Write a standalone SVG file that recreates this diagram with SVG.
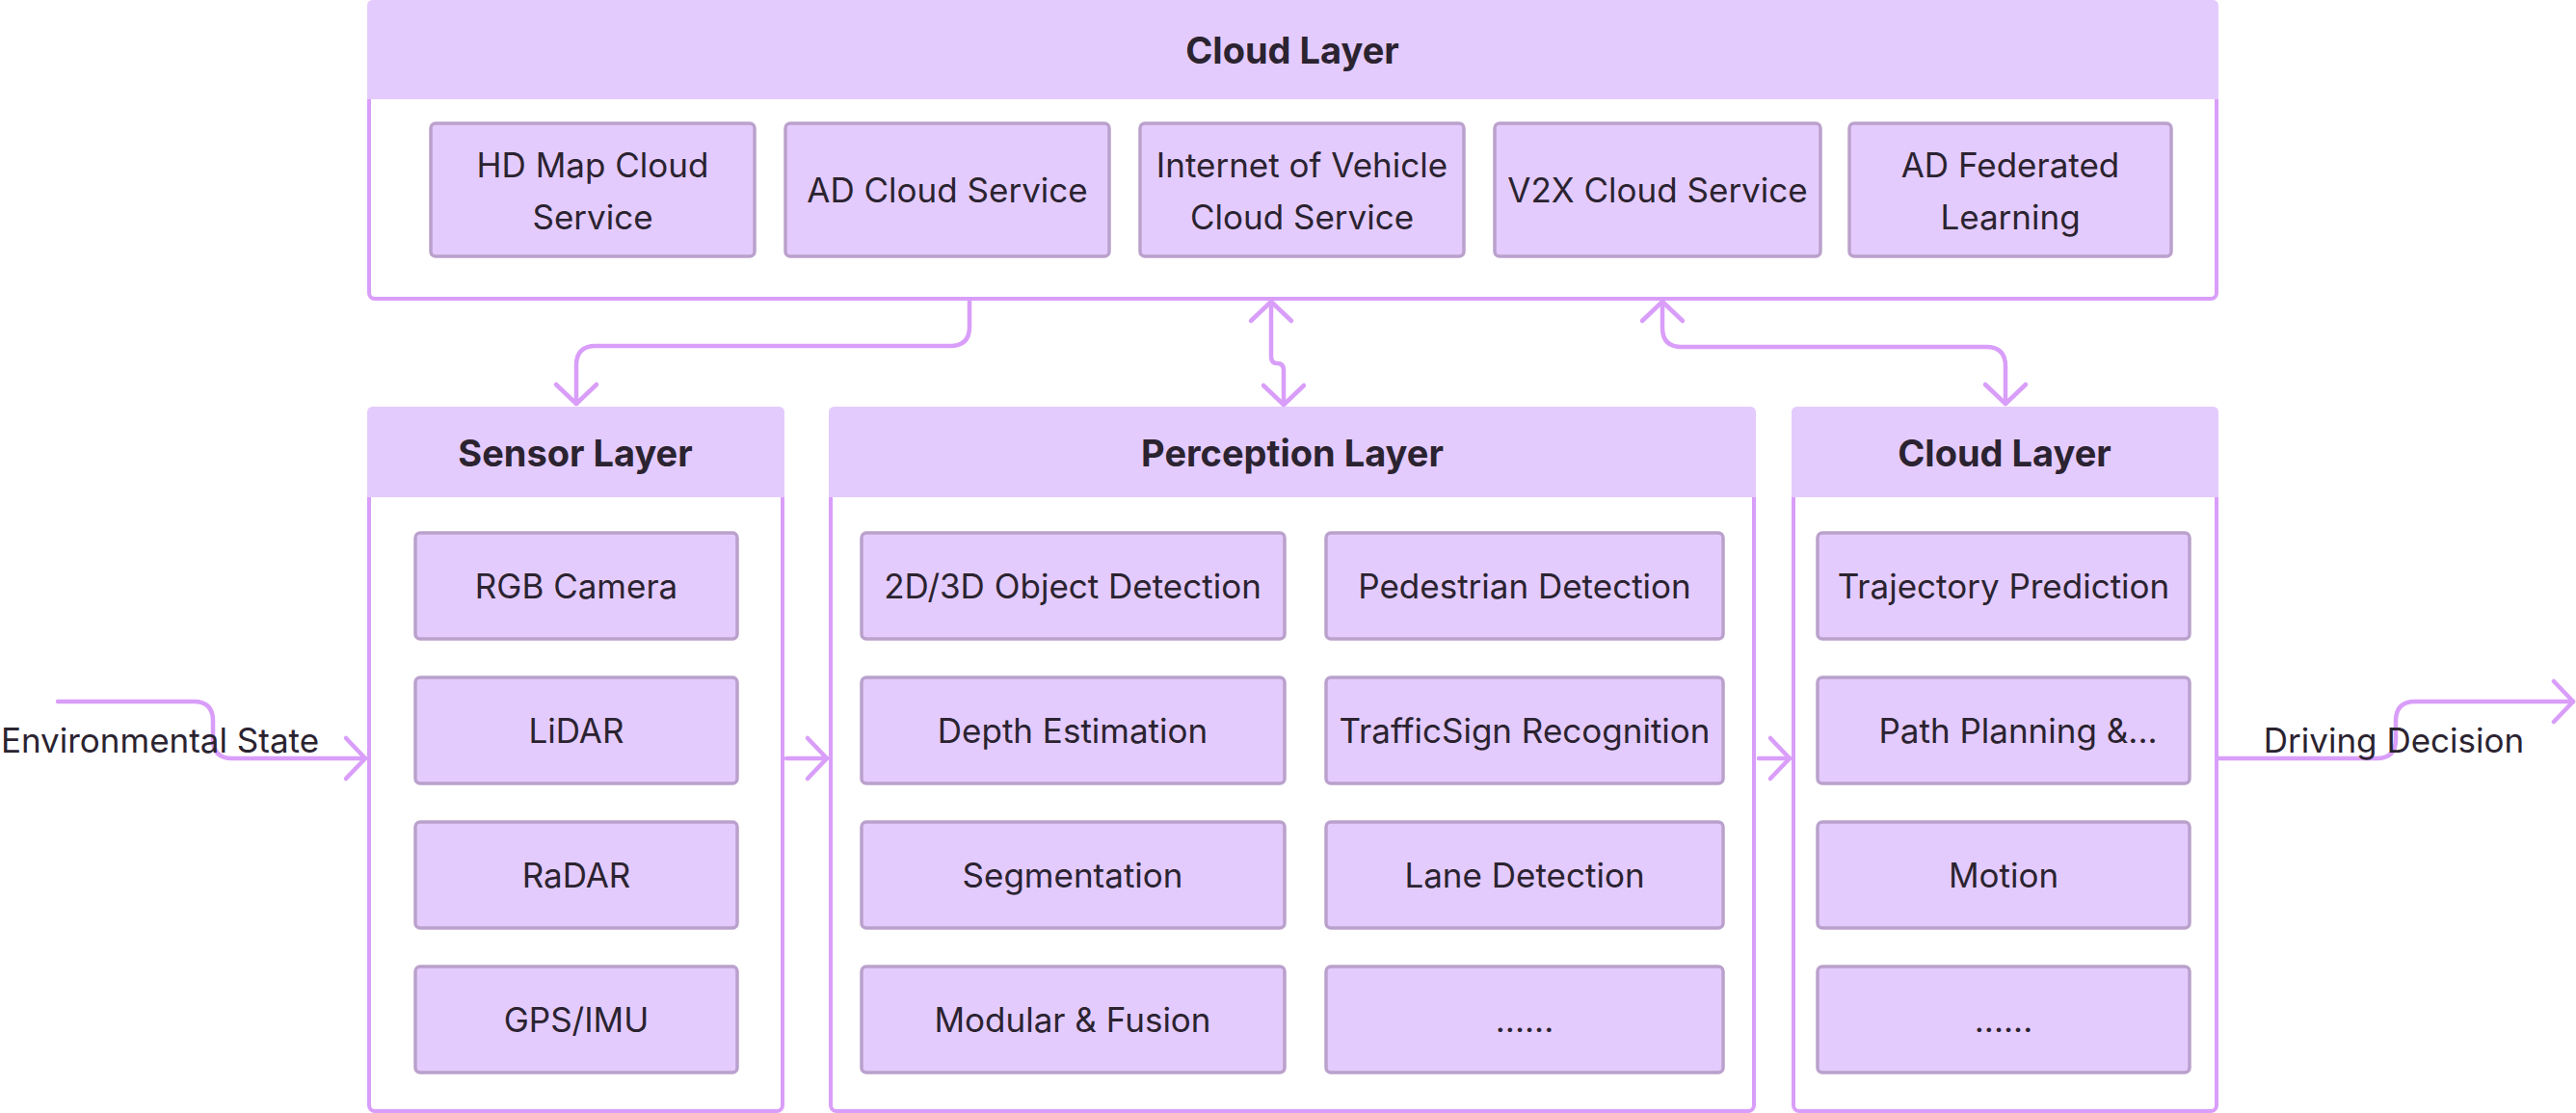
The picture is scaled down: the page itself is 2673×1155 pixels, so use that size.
<svg xmlns="http://www.w3.org/2000/svg" width="2673" height="1155" viewBox="0 0 2673 1155">
<style>
.cont{fill:#ffffff;stroke:#d99ef9;stroke-width:4}
.hdr{fill:#e4cbfd}
.item{fill:#e4cbfd;stroke:#baa1cc;stroke-width:3.5}
.ht{font-family:Inter,"Noto Sans",sans-serif;font-weight:700;font-size:38px;fill:#2b2330;text-anchor:middle}
.it{font-family:Inter,"Noto Sans",sans-serif;font-weight:400;font-size:35px;fill:#2b2330;text-anchor:middle}
.conn{fill:none;stroke:#d99ef9;stroke-width:4.5;stroke-linecap:round;stroke-linejoin:round}
</style>
<defs>
<marker id="ah" markerUnits="userSpaceOnUse" markerWidth="50" markerHeight="50" viewBox="-25 -25 50 50" refX="0" refY="0" orient="auto-start-reverse" overflow="visible">
<path d="M-20,-21 L0,0 L-20,21" fill="none" stroke="#d99ef9" stroke-width="4.5" stroke-linecap="round" stroke-linejoin="round"/>
</marker>
</defs>
<rect width="2673" height="1155" fill="#ffffff"/>

<g id="connectors">
<path class="conn" d="M1006,312 V339 Q1006,359 986,359 H618 Q598,359 598,379 V419" marker-end="url(#ah)"/>
<path class="conn" d="M1319,313 V370 Q1319,377 1325,377 Q1332,377 1332,384 V420" marker-start="url(#ah)" marker-end="url(#ah)"/>
<path class="conn" d="M1725,313 V340 Q1725,360 1745,360 H2061 Q2081,360 2081,380 V419" marker-start="url(#ah)" marker-end="url(#ah)"/>
<path class="conn" d="M60,728 H201 Q221,728 221,748 V767 Q221,787 241,787 H379" marker-end="url(#ah)"/>
<path class="conn" d="M816,787 H858" marker-end="url(#ah)"/>
<path class="conn" d="M1825,787 H1857" marker-end="url(#ah)"/>
<path class="conn" d="M2302,787 H2466 Q2486,787 2486,767 V748 Q2486,728 2506,728 H2670" marker-end="url(#ah)"/>
<text class="it" x="166" y="781">Environmental State</text>
<text class="it" x="2484" y="781">Driving Decision</text>
</g>

<g id="cloud-top">
<rect class="cont" x="383" y="2" width="1917" height="308" rx="6"/>
<path class="hdr" d="M381,6 Q381,0 387,0 H2296 Q2302,0 2302,6 V103 H381 Z"/>
<text class="ht" x="1341" y="66">Cloud Layer</text>
<g id="hdmap"><rect class="item" x="447" y="128" width="336" height="138" rx="5"/><text class="it" x="615" y="184">HD Map Cloud</text><text class="it" x="615" y="238">Service</text></g>
<g id="adcloud"><rect class="item" x="815" y="128" width="336" height="138" rx="5"/><text class="it" x="983" y="210">AD Cloud Service</text></g>
<g id="iov"><rect class="item" x="1183" y="128" width="336" height="138" rx="5"/><text class="it" x="1351" y="184">Internet of Vehicle</text><text class="it" x="1351" y="238">Cloud Service</text></g>
<g id="v2x"><rect class="item" x="1551" y="128" width="338" height="138" rx="5"/><text class="it" x="1720" y="210">V2X Cloud Service</text></g>
<g id="adfed"><rect class="item" x="1919" y="128" width="334" height="138" rx="5"/><text class="it" x="2086" y="184">AD Federated</text><text class="it" x="2086" y="238">Learning</text></g>
</g>

<g id="sensor">
<rect class="cont" x="383" y="424" width="429" height="729" rx="6"/>
<path class="hdr" d="M381,428 Q381,422 387,422 H808 Q814,422 814,428 V516 H381 Z"/>
<text class="ht" x="597" y="484">Sensor Layer</text>
<g id="rgb"><rect class="item" x="431" y="553" width="334" height="110" rx="5"/><text class="it" x="598" y="621">RGB Camera</text></g>
<g id="lidar"><rect class="item" x="431" y="703" width="334" height="110" rx="5"/><text class="it" x="598" y="771">LiDAR</text></g>
<g id="radar"><rect class="item" x="431" y="853" width="334" height="110" rx="5"/><text class="it" x="598" y="921">RaDAR</text></g>
<g id="gps"><rect class="item" x="431" y="1003" width="334" height="110" rx="5"/><text class="it" x="598" y="1071">GPS/IMU</text></g>
</g>

<g id="perception">
<rect class="cont" x="862" y="424" width="958" height="729" rx="6"/>
<path class="hdr" d="M860,428 Q860,422 866,422 H1816 Q1822,422 1822,428 V516 H860 Z"/>
<text class="ht" x="1341" y="484">Perception Layer</text>
<g id="objdet"><rect class="item" x="894" y="553" width="439" height="110" rx="5"/><text class="it" x="1113" y="621">2D/3D Object Detection</text></g>
<g id="depth"><rect class="item" x="894" y="703" width="439" height="110" rx="5"/><text class="it" x="1113" y="771">Depth Estimation</text></g>
<g id="seg"><rect class="item" x="894" y="853" width="439" height="110" rx="5"/><text class="it" x="1113" y="921">Segmentation</text></g>
<g id="fusion"><rect class="item" x="894" y="1003" width="439" height="110" rx="5"/><text class="it" x="1113" y="1071">Modular &amp; Fusion</text></g>
<g id="ped"><rect class="item" x="1376" y="553" width="412" height="110" rx="5"/><text class="it" x="1582" y="621">Pedestrian Detection</text></g>
<g id="traffic"><rect class="item" x="1376" y="703" width="412" height="110" rx="5"/><text class="it" x="1582" y="771">TrafficSign Recognition</text></g>
<g id="lane"><rect class="item" x="1376" y="853" width="412" height="110" rx="5"/><text class="it" x="1582" y="921">Lane Detection</text></g>
<g id="pmore"><rect class="item" x="1376" y="1003" width="412" height="110" rx="5"/><text class="it" x="1582" y="1071">......</text></g>
</g>

<g id="cloud-right">
<rect class="cont" x="1861" y="424" width="439" height="729" rx="6"/>
<path class="hdr" d="M1859,428 Q1859,422 1865,422 H2296 Q2302,422 2302,428 V516 H1859 Z"/>
<text class="ht" x="2080" y="484">Cloud Layer</text>
<g id="traj"><rect class="item" x="1886" y="553" width="386" height="110" rx="5"/><text class="it" x="2079" y="621">Trajectory Prediction</text></g>
<g id="path"><rect class="item" x="1886" y="703" width="386" height="110" rx="5"/><text class="it" x="2094" y="771">Path Planning &amp;...</text></g>
<g id="motion"><rect class="item" x="1886" y="853" width="386" height="110" rx="5"/><text class="it" x="2079" y="921">Motion</text></g>
<g id="cmore"><rect class="item" x="1886" y="1003" width="386" height="110" rx="5"/><text class="it" x="2079" y="1071">......</text></g>
</g>
</svg>
